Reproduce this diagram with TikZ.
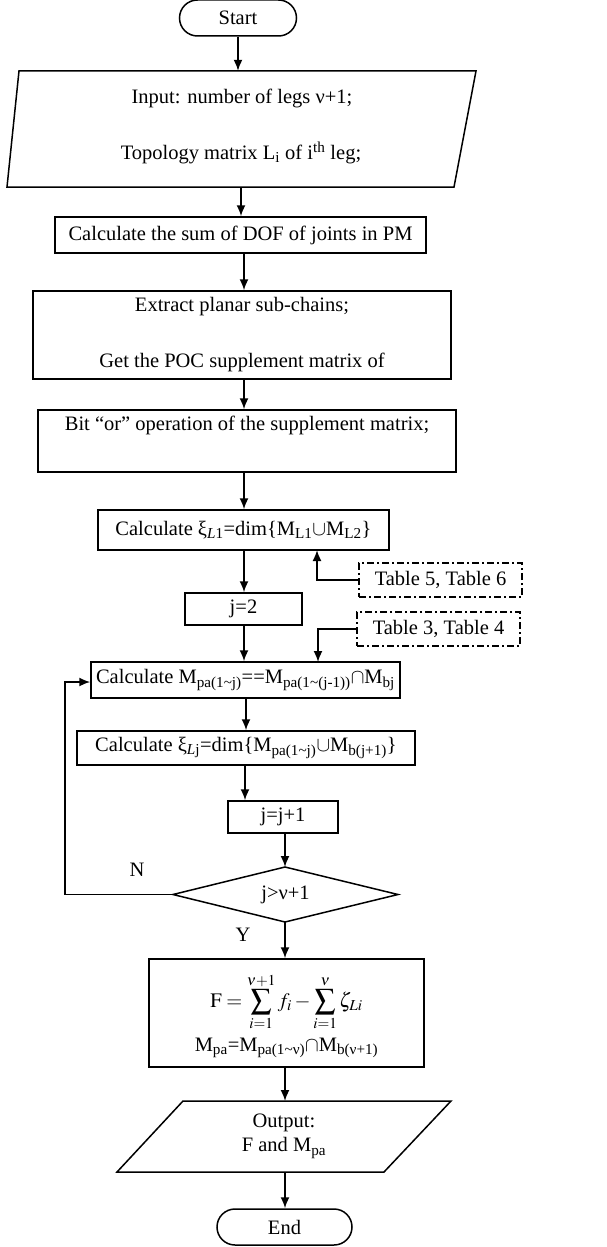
\documentclass[tikz,border=0pt]{standalone}
\usepackage{mathptmx}
\usepackage{fontspec}
\setmainfont{Liberation Serif}
\usetikzlibrary{arrows.meta}
\newcommand{\sbs}[1]{\textsubscript{#1}}
\newcommand{\tl}{\textasciitilde}
\begin{document}
\begin{tikzpicture}[x=1pt,y=-1pt,
  font=\fontsize{20.5}{24}\selectfont,
  box/.style={draw,line width=1.5pt,inner sep=0pt},
  term/.style={box,rounded corners=18pt},
  ddbox/.style={box,dash pattern=on 7pt off 3pt on 2pt off 3pt},
  arr/.style={line width=1.7pt,-{Latex[length=11pt,width=9pt]}},
  lbl/.style={inner sep=0pt}]
\useasboundingbox (0,0) rectangle (607,1247);

% Start
\node[term,minimum width=117pt,minimum height=36pt] (start) at (238,18) {Start};

% Input parallelogram
\node[inner sep=0pt,minimum width=440pt,minimum height=116pt] (inp) at (241,129) {};
\draw[line width=1.5pt] (19,71) -- (476,71) -- (454,187) -- (7,187) -- cycle;
\node[lbl] (inp1) at (242,98) {Input: number of legs ν+1;};
\node[lbl] (inp2) at (241,153) {Topology matrix L\sbs{i} of i\textsuperscript{th} leg;};

% DOF
\node[box,minimum width=371pt,minimum height=36pt] (dof) at (240.5,235) {Calculate the sum of DOF of joints in PM};

% Extract
\node[box,minimum width=418pt,minimum height=88pt] (ext) at (242,335) {};
\node[lbl] (ext1) at (242,307) {Extract planar sub-chains;};
\node[lbl] (ext2) at (242,362) {Get the POC supplement matrix of};

% Bit or
\node[box,minimum width=418pt,minimum height=62pt] (bit) at (247,441) {};
\node[lbl] (bit1) at (247,425) {Bit “or” operation of the supplement matrix;};

% xi L1
\node[box,minimum width=291pt,minimum height=40pt] (xi1) at (243.5,530) {Calculate ξ\sbs{\textit{L}1}=dim\{M\sbs{L1}$\cup$M\sbs{L2}\}};

% j=2
\node[box,minimum width=117pt,minimum height=32pt] (j2) at (243.5,609) {j=2};

% tables
\node[ddbox,minimum width=163pt,minimum height=34pt] (t56) at (440.5,580) {Table 5, Table 6};
\node[ddbox,minimum width=163pt,minimum height=34pt] (t34) at (438.5,629) {Table 3, Table 4};

% Mpa
\node[box,minimum width=309pt,minimum height=36pt] (mpa) at (245.5,680) {Calculate M\sbs{pa(1\tl j)}==M\sbs{pa(1\tl(j-1))}$\cap$M\sbs{bj}};

% xi Lj
\node[box,minimum width=338pt,minimum height=34pt] (xij) at (246,748) {Calculate ξ\sbs{\textit{L}j}=dim\{M\sbs{pa(1\tl j)}$\cup$M\sbs{b(j+1)}\}};

% j=j+1
\node[box,minimum width=110pt,minimum height=32pt] (jj) at (283,817) {j=j+1};

% decision
\coordinate (dt) at (285,867);
\coordinate (db) at (285,922);
\coordinate (dl) at (173,894.5);
\coordinate (dr) at (398,894.5);
\draw[line width=1.5pt] (dt) -- (dr) -- (db) -- (dl) -- cycle;
\node[lbl] (dec) at (285.5,894.5) {j>ν+1};
\node[lbl] (nlab) at (137,870) {N};
\node[lbl] (ylab) at (243,935) {Y};

% F box
\node[box,minimum width=275pt,minimum height=108pt] (fbox) at (286.5,1013) {};
\node[lbl] (f1) at (286.5,1002) {$\mathrm{F}=\displaystyle\sum_{i=1}^{\nu+1} f_i-\sum_{i=1}^{\nu}\zeta_{Li}$};
\node[lbl] (f2) at (286.5,1048) {M\sbs{pa}=M\sbs{pa(1\tl ν)}$\cap$M\sbs{b(ν+1)}};

% Output
\coordinate (ot) at (285,1101);
\coordinate (ob) at (285,1172);
\draw[line width=1.5pt] (183,1101) -- (451,1101) -- (384,1172) -- (117,1172) -- cycle;
\node[lbl] (out1) at (284,1123) {Output:};
\node[lbl] (out2) at (284,1148) {F and M\sbs{pa}};

% End
\node[term,minimum width=135pt,minimum height=36pt] (end) at (284.5,1227) {End};

% connectors
\draw[arr] (start.south) -- (start.south |- inp.north);
\draw[arr] (inp.south) -- (inp.south |- dof.north);
\draw[arr] (244,253) coordinate (a1) -- (a1 |- ext.north);
\draw[arr] (ext.south -| 244,0) coordinate (a2) -- (a2 |- bit.north);
\draw[arr] (bit.south -| 244,0) coordinate (a3) -- (a3 |- xi1.north);
\draw[arr] (xi1.south -| 244,0) coordinate (a4) -- (a4 |- j2.north);
\coordinate (c56) at (317,550);
\draw[arr] (t56.west) -| (c56);
\coordinate (c34) at (318,662);
\draw[arr] (t34.west) -| (c34);
\draw[arr] (j2.south -| 244,0) coordinate (a5) -- (a5 |- mpa.north);
\draw[arr] (mpa.south -| 246,0) coordinate (a6) -- (a6 |- xij.north);
\draw[arr] (xij.south -| 245,0) coordinate (a7) -- (a7 |- jj.north);
\draw[arr] (jj.south -| 285,0) coordinate (a8) -- (dt);
\draw[arr] (dl) -- (65,894.5) -- (65,682) -- (mpa.west |- 0,682);
\draw[arr] (db) -- (db |- fbox.north);
\draw[arr] (fbox.south -| ot) -- (ot);
\draw[arr] (ob) -- (end.north -| ob);
\end{tikzpicture}
\end{document}
